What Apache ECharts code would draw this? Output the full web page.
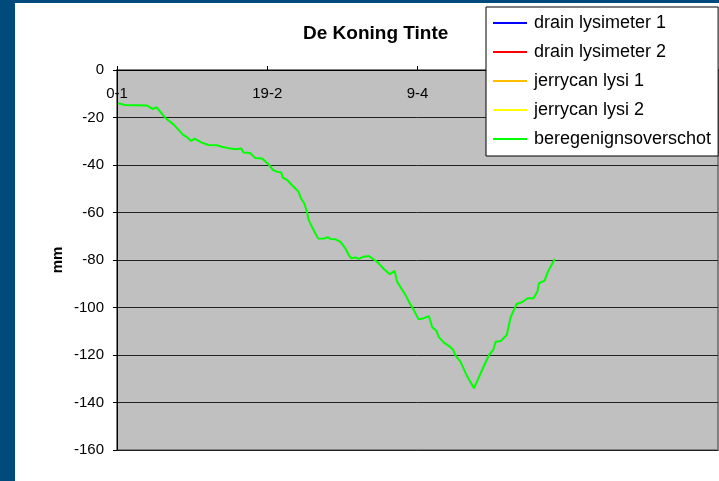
<!DOCTYPE html>
<html>
<head>
<meta charset="utf-8">
<script src="https://cdn.jsdelivr.net/npm/echarts@6/dist/echarts.min.js"></script>
<style>
    body {
        margin: 0;
        background: #004b7c;
        width: 719px;
        height: 481px;
        overflow: hidden;
    }
    #myEcharts {
        position: absolute;
        left: 15px;
        top: 3px;
        width: 704px;
        height: 478px;
        background: #ffffff;
    }
</style>
</head>
<body>
<div id="myEcharts"></div>
<script>
// x = days since 0-1 (Excel date serial), y = mm
const days = [0.4, 2.7, 9.9, 11.8, 13.2, 16, 18.8, 22.1, 23.2, 24.7,
    25.8, 28.2, 30.4, 33.2, 34.9, 37.7, 39.9, 41.3, 42.1, 44.3,
    46, 48.3, 50.4, 51.9, 53.2, 54.6, 55.2, 56.6, 58.2, 60.4,
    61.2, 62.3, 63.2, 63.8, 65.4, 66.9, 68.8, 70.1, 71.2, 72.7,
    74.3, 76, 77.1, 78, 79.3, 80.4, 82.1, 83.8, 85.2, 86.8,
    88.8, 90.8, 92.4, 93.2, 96, 97.4, 98.8, 99.6, 100.4, 102.1,
    103.8, 104.9, 106.3, 107.1, 108.8, 110.8, 111.9, 112.7, 114.3, 116.3,
    118.8, 121, 123.8, 125.2, 126, 127.7, 129.7, 131, 133, 134.9,
    136.6, 138.6, 139.9, 140.4, 142.3, 143.4, 145.7];
const overschot = [-14.0, -14.7, -14.9, -16.4, -15.7, -20.1, -22.9, -27.4, -28.2, -29.9,
    -28.9, -30.6, -31.6, -31.7, -32.3, -33.1, -33.4, -33.0, -34.7, -34.9,
    -37.1, -37.3, -39.7, -42.1, -42.8, -43.1, -45.3, -46.3, -48.4, -51.2,
    -54.0, -56.1, -59.7, -63.2, -67.4, -70.9, -71.0, -70.4, -71.2, -71.3,
    -72.3, -75.1, -77.9, -79.3, -78.9, -79.5, -78.6, -78.3, -79.6, -81.0,
    -83.8, -86.0, -84.6, -89.1, -94.7, -98.2, -101.1, -103.2, -105.0, -104.5,
    -103.6, -108.3, -109.8, -112.5, -114.8, -116.5, -117.9, -120.4, -122.8, -128.4,
    -134.0, -127.7, -120.0, -117.9, -114.4, -114.1, -111.6, -104.1, -98.5, -97.7,
    -96.1, -96.1, -93.3, -89.8, -88.7, -84.9, -79.6];
const xTickLabels = ['0-1', '19-2', '9-4', '29-5', '18-7'];
const seriesNames = ['drain lysimeter 1', 'drain lysimeter 2', 'jerrycan lysi 1', 'jerrycan lysi 2', 'beregenignsoverschot'];
const seriesColors = ['#0000ff', '#ff0000', '#ffbf00', '#ffff00', '#00ff00'];

const font = '"Liberation Sans", Arial, sans-serif';

let series = seriesNames.map((name, i) => ({
    name: name,
    type: 'line',
    data: [],
    showSymbol: false,
    lineStyle: { color: seriesColors[i], width: 2 },
    itemStyle: { color: seriesColors[i] }
}));
series[4].data = days.map((d, i) => [d, overschot[i]]);

const option = {
    animation: false,
    title: {
        text: 'De Koning Tinte',
        left: 288,
        top: 21,
        padding: 0,
        textStyle: { fontFamily: font, fontSize: 19, fontWeight: 'bold', color: '#000' }
    },
    legend: {
        orient: 'vertical',
        left: 471,
        top: 4,
        padding: [7, 7, 8, 7],
        itemGap: 11,
        itemWidth: 34,
        itemHeight: 2,
        icon: 'rect',
        backgroundColor: '#ffffff',
        borderColor: '#000000',
        borderWidth: 1,
        borderRadius: 0,
        textStyle: { fontFamily: font, fontSize: 18, color: '#000', lineHeight: 18, padding: [0, 0, 0, 2] },
        data: seriesNames
    },
    grid: {
        left: 102,
        top: 67,
        right: 1,
        bottom: 31,
        outerBoundsMode: 'none',
        containLabel: false,
        show: true,
        backgroundColor: '#c0c0c0',
        borderColor: '#808080',
        borderWidth: 2
    },
    xAxis: {
        type: 'value',
        position: 'top',
        min: 0,
        max: 200,
        interval: 50,
        axisLine: { onZero: false, lineStyle: { color: '#000', width: 1 } },
        axisTick: { show: true, length: 4, lineStyle: { color: '#000' } },
        axisLabel: {
            inside: true,
            margin: 16,
            showMaxLabel: false,
            fontFamily: font,
            fontSize: 15,
            color: '#000',
            formatter: v => xTickLabels[Math.round(v / 50)]
        },
        splitLine: { show: false }
    },
    yAxis: {
        type: 'value',
        min: -160,
        max: 0,
        interval: 20,
        name: 'mm',
        nameLocation: 'middle',
        nameGap: 52,
        nameRotate: 90,
        nameMoveOverlap: false,
        nameTextStyle: { fontFamily: font, fontSize: 15, fontWeight: 'bold', color: '#000' },
        axisLine: { show: true, lineStyle: { color: '#000', width: 1 } },
        axisTick: { show: true, length: 4, lineStyle: { color: '#000' } },
        axisLabel: { margin: 13, fontFamily: font, fontSize: 15, color: '#000' },
        splitLine: { show: true, lineStyle: { color: '#222', width: 1 } }
    },
    series: series
};

let chart = echarts.init(document.getElementById('myEcharts'));
chart.setOption(option);
</script>
</body>
</html>
